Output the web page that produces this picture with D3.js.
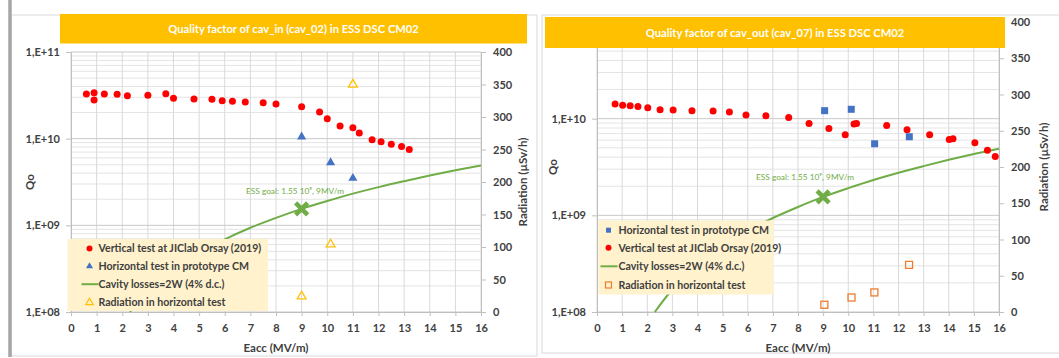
<!DOCTYPE html>
<html>
<head>
<meta charset="utf-8">
<script src="https://cdn.jsdelivr.net/npm/d3@7"></script>
<style>
body { margin: 0; background: #fff; }
text { font-family: Lato, "Open Sans", sans-serif; }
</style>
</head>
<body>
<svg id="chart" width="1059" height="358"></svg>
<script>
// tick labels
var eaccTicks = [0, 1, 2, 3, 4, 5, 6, 7, 8, 9, 10, 11, 12, 13, 14, 15, 16];
var qoTicks = [1e8, 1e9, 1e10, 1e11];
var radTicks = [0, 50, 100, 150, 200, 250, 300, 350, 400];

// cav_in (cav_02): vertical test at IJClab
var inVertE = [0.6, 0.9, 0.9, 1.3, 1.8, 2.2, 3.0, 3.7, 4.0, 4.8, 5.5, 5.9, 6.3, 6.8, 7.5, 8.0, 9.0, 9.7, 10.0, 10.5, 11.0, 11.25, 11.75, 12.1, 12.5, 12.9, 13.2];
var inVertQ = [3.27e10, 3.39e10, 2.79e10, 3.27e10, 3.25e10, 3.13e10, 3.16e10, 3.30e10, 2.92e10, 2.87e10, 2.85e10, 2.74e10, 2.70e10, 2.65e10, 2.60e10, 2.51e10, 2.34e10, 2.03e10, 1.70e10, 1.40e10, 1.34e10, 1.16e10, 9.7e9, 9.2e9, 8.6e9, 8.1e9, 7.5e9];
// cav_in: horizontal test + radiation
var inHorE = [9.0, 10.13, 11.0];
var inHorQ = [1.05e10, 5.3e9, 3.5e9];
var inRadE = [9.0, 10.13, 11.0];
var inRadR = [24, 104, 350];

// cav_out (cav_07)
var outVertE = [0.72, 1.02, 1.32, 1.63, 2.02, 2.51, 3.03, 3.78, 4.62, 5.27, 5.93, 6.72, 7.63, 8.44, 9.23, 9.88, 10.23, 10.33, 11.53, 12.34, 13.24, 14.02, 14.17, 15.04, 15.54, 15.85];
var outVertQ = [1.42e10, 1.38e10, 1.36e10, 1.34e10, 1.30e10, 1.24e10, 1.23e10, 1.21e10, 1.20e10, 1.17e10, 1.09e10, 1.07e10, 1.03e10, 8.9e9, 7.9e9, 6.8e9, 8.8e9, 8.9e9, 8.5e9, 7.7e9, 6.8e9, 6.1e9, 6.2e9, 5.65e9, 4.7e9, 4.05e9];
var outHorE = [9.06, 10.12, 11.05, 12.43];
var outHorQ = [1.21e10, 1.25e10, 5.5e9, 6.5e9];
var outRadE = [9.05, 10.13, 11.04, 12.42];
var outRadR = [10, 20, 27, 65];

// cavity losses = 2W line (same on both)
var lossE = [2.3, 3, 4, 5, 6, 7, 8, 9, 10, 11, 12, 13, 14, 15, 16];
var lossQ = [1.0e8, 1.72e8, 3.06e8, 4.78e8, 6.89e8, 9.38e8, 1.22e9, 1.55e9, 1.91e9, 2.32e9, 2.76e9, 3.23e9, 3.75e9, 4.31e9, 4.9e9];
var goalE = 9, goalQ = 1.55e9;

var svg = d3.select("#chart");
svg.append("rect").attr("width", 1059).attr("height", 358).attr("fill", "#fff");

// panel frames
svg.append("rect").attr("x", 11).attr("y", 15).attr("width", 526).attr("height", 341)
    .attr("fill", "none").attr("stroke", "#d9d9d9");
svg.append("line").attr("x1", 10).attr("x2", 10).attr("y1", 0).attr("y2", 357)
    .attr("stroke", "#a6a6a6").attr("stroke-width", 3.5);
svg.append("rect").attr("x", 542).attr("y", 15).attr("width", 530).attr("height", 338)
    .attr("fill", "none").attr("stroke", "#d9d9d9");

function fmtQ(d) {
    var e = Math.round(Math.log10(d));
    return "1,E+" + (e < 10 ? "0" + e : e);
}

function drawPanel(p) {
    var g = svg.append("g");
    var x = d3.scaleLinear().domain([0, 16]).range([p.left, p.right]);
    var y = d3.scaleLog().domain([1e8, 1e11]).range([p.bottom, p.top]);
    var yR = d3.scaleLinear().domain([0, 400]).range([p.bottom, p.top]);

    // log minor gridlines
    var minor = [];
    [8, 9, 10].forEach(function (e) {
        for (var k = 2; k <= 9; k++) minor.push(k * Math.pow(10, e));
    });
    g.selectAll(".minor").data(minor).enter().append("line")
        .attr("x1", p.left).attr("x2", p.right)
        .attr("y1", function (d) { return y(d); }).attr("y2", function (d) { return y(d); })
        .attr("stroke", "#e4e4e4").attr("stroke-width", 1);
    g.selectAll(".vgrid").data(eaccTicks).enter().append("line")
        .attr("x1", function (d) { return x(d); }).attr("x2", function (d) { return x(d); })
        .attr("y1", p.top).attr("y2", p.bottom)
        .attr("stroke", "#d9d9d9");
    g.selectAll(".major").data(qoTicks).enter().append("line")
        .attr("x1", p.left).attr("x2", p.right)
        .attr("y1", function (d) { return y(d); }).attr("y2", function (d) { return y(d); })
        .attr("stroke", "#c8c8c8");

    // axes
    var ax = g.append("g").attr("transform", `translate(0, ${p.bottom})`)
        .call(d3.axisBottom(x).tickValues(eaccTicks).tickSize(4).tickSizeOuter(0).tickPadding(8));
    var ayl = g.append("g").attr("transform", `translate(${p.left}, 0)`)
        .call(d3.axisLeft(y).tickValues(qoTicks).tickFormat(fmtQ).tickSize(5).tickSizeOuter(0).tickPadding(6));
    var ayr = g.append("g").attr("transform", `translate(${p.right}, 0)`)
        .call(d3.axisRight(yR).tickValues(radTicks).tickSize(5).tickSizeOuter(0).tickPadding(7));
    [ax, ayl, ayr].forEach(function (a) {
        a.select(".domain").attr("stroke", "#bfbfbf");
        a.selectAll(".tick line").attr("stroke", "#bfbfbf");
        a.selectAll(".tick text").attr("fill", "#404040").attr("font-size", 11)
            .attr("font-weight", "bold").attr("font-family", "Lato, sans-serif");
    });

    // cavity loss curve
    var lossPts = lossE.map(function (e, i) { return [e, lossQ[i]]; });
    g.append("path").datum(lossPts)
        .attr("d", d3.line().x(function (d) { return x(d[0]); }).y(function (d) { return y(d[1]); }).curve(d3.curveMonotoneX))
        .attr("fill", "none").attr("stroke", "#70ad47").attr("stroke-width", 2);

    // goal marker
    var gx = x(goalE), gy = y(goalQ), s = 6;
    g.append("path")
        .attr("d", `M${gx - s},${gy - s}L${gx + s},${gy + s}M${gx - s},${gy + s}L${gx + s},${gy - s}`)
        .attr("stroke", "#70ad47").attr("stroke-width", 4.5);
    g.append("text").attr("x", p.goalX).attr("y", p.goalY)
        .attr("font-size", 8.3).attr("fill", "#70ad47")
        .text("ESS goal: 1.55 10\u2079, 9MV/m");

    // vertical test circles
    var vert = p.vertE.map(function (e, i) { return [e, p.vertQ[i]]; });
    g.selectAll(".vert").data(vert).enter().append("circle")
        .attr("cx", function (d) { return x(d[0]); })
        .attr("cy", function (d) { return y(d[1]); })
        .attr("r", 3.5).attr("fill", "#ff0000");

    var hor = p.horE.map(function (e, i) { return [e, p.horQ[i]]; });
    var rad = p.radE.map(function (e, i) { return [e, p.radR[i]]; });

    if (p.shape === "triangle") {
        g.selectAll(".hor").data(hor).enter().append("path")
            .attr("d", d3.symbol(d3.symbolTriangle).size(36))
            .attr("transform", function (d) { return `translate(${x(d[0])}, ${y(d[1])})`; })
            .attr("fill", "#4472c4");
        g.selectAll(".rad").data(rad).enter().append("path")
            .attr("d", d3.symbol(d3.symbolTriangle).size(34))
            .attr("transform", function (d) { return `translate(${x(d[0])}, ${yR(d[1])})`; })
            .attr("fill", "none").attr("stroke", "#ffc000").attr("stroke-width", 1.3);
    } else {
        g.selectAll(".hor").data(hor).enter().append("rect")
            .attr("x", function (d) { return x(d[0]) - 3.5; })
            .attr("y", function (d) { return y(d[1]) - 3.5; })
            .attr("width", 7).attr("height", 7).attr("fill", "#4472c4");
        g.selectAll(".rad").data(rad).enter().append("rect")
            .attr("x", function (d) { return x(d[0]) - 3.5; })
            .attr("y", function (d) { return yR(d[1]) - 3.5; })
            .attr("width", 7).attr("height", 7)
            .attr("fill", "none").attr("stroke", "#ed7d31").attr("stroke-width", 1.3);
    }

    // title bar
    g.append("rect").attr("x", p.bar[0]).attr("y", p.bar[1]).attr("width", p.bar[2]).attr("height", p.bar[3])
        .attr("fill", "#ffc000");
    g.append("text").attr("x", p.bar[0] + p.bar[2] / 2).attr("y", p.bar[1] + p.bar[3] / 2 + 4)
        .attr("text-anchor", "middle").attr("fill", "#fff").attr("font-size", 11.2)
        .attr("font-weight", "bold").text(p.title);

    // legend
    var L = p.legend;
    g.append("rect").attr("x", L.x).attr("y", L.y).attr("width", L.w).attr("height", L.h).attr("fill", "#fff2cc");
    L.items.forEach(function (it, i) {
        var cy = L.rows[i], mx = L.mx;
        if (it.type === "circle") {
            g.append("circle").attr("cx", mx).attr("cy", cy).attr("r", 3).attr("fill", "#ff0000");
        } else if (it.type === "tri") {
            g.append("path").attr("d", d3.symbol(d3.symbolTriangle).size(22))
                .attr("transform", `translate(${mx}, ${cy})`).attr("fill", "#4472c4");
        } else if (it.type === "otri") {
            g.append("path").attr("d", d3.symbol(d3.symbolTriangle).size(24))
                .attr("transform", `translate(${mx}, ${cy})`)
                .attr("fill", "none").attr("stroke", "#ffc000").attr("stroke-width", 1.2);
        } else if (it.type === "sq") {
            g.append("rect").attr("x", mx - 2.5).attr("y", cy - 2.5).attr("width", 5).attr("height", 5).attr("fill", "#4472c4");
        } else if (it.type === "osq") {
            g.append("rect").attr("x", mx - 3).attr("y", cy - 3).attr("width", 6).attr("height", 6)
                .attr("fill", "none").attr("stroke", "#ed7d31").attr("stroke-width", 1.2);
        } else {
            g.append("line").attr("x1", mx - 8).attr("x2", mx + 9).attr("y1", cy).attr("y2", cy)
                .attr("stroke", "#70ad47").attr("stroke-width", 2);
        }
        g.append("text").attr("x", L.tx).attr("y", cy + 3.8).attr("font-size", 10.6)
            .attr("font-weight", "bold").attr("fill", "#404040").text(it.label);
    });

    // axis titles
    g.append("text").attr("x", (p.left + p.right) / 2).attr("y", p.bottom + 40)
        .attr("text-anchor", "middle").attr("font-size", 11.5).attr("font-weight", "bold")
        .attr("fill", "#404040").text("Eacc (MV/m)");
    var mid = (p.top + p.bottom) / 2;
    g.append("text").attr("transform", `translate(${p.qoX}, ${mid}) rotate(-90)`)
        .attr("text-anchor", "middle").attr("font-size", 11.5).attr("font-weight", "bold")
        .attr("fill", "#404040").text("Qo");
    g.append("text").attr("transform", `translate(${p.radX}, ${mid}) rotate(-90)`)
        .attr("text-anchor", "middle").attr("font-size", 11.5).attr("font-weight", "bold")
        .attr("fill", "#404040").text("Radiation (\u00b5Sv/h)");
}

drawPanel({
    left: 71, right: 481, top: 52, bottom: 312,
    bar: [60, 14, 467, 29.5],
    title: "Quality factor of cav_in (cav_02) in ESS DSC CM02",
    vertE: inVertE, vertQ: inVertQ, horE: inHorE, horQ: inHorQ, radE: inRadE, radR: inRadR,
    shape: "triangle",
    goalX: 246, goalY: 194,
    qoX: 34, radX: 527,
    legend: {
        x: 67.5, y: 239, w: 200.5, h: 72, mx: 89.5, tx: 98.5,
        rows: [248.4, 266.3, 284.2, 302.5],
        items: [
            { type: "circle", label: "Vertical test at JIClab Orsay (2019)" },
            { type: "tri", label: "Horizontal test in prototype CM" },
            { type: "line", label: "Cavity losses=2W (4% d.c.)" },
            { type: "otri", label: "Radiation in horizontal test" }
        ]
    }
});

drawPanel({
    left: 597, right: 999, top: 22, bottom: 312,
    bar: [545, 17, 460, 31],
    title: "Quality factor of cav_out (cav_07) in ESS DSC CM02",
    vertE: outVertE, vertQ: outVertQ, horE: outHorE, horQ: outHorQ, radE: outRadE, radR: outRadR,
    shape: "square",
    goalX: 756, goalY: 180,
    qoX: 557, radX: 1048,
    legend: {
        x: 598.5, y: 220.5, w: 175, h: 74, mx: 608.5, tx: 618.5,
        rows: [230.2, 247.7, 266.3, 285],
        items: [
            { type: "sq", label: "Horizontal test in prototype CM" },
            { type: "circle", label: "Vertical test at JIClab Orsay (2019)" },
            { type: "line", label: "Cavity losses=2W (4% d.c.)" },
            { type: "osq", label: "Radiation in horizontal test" }
        ]
    }
});
</script>
</body>
</html>
